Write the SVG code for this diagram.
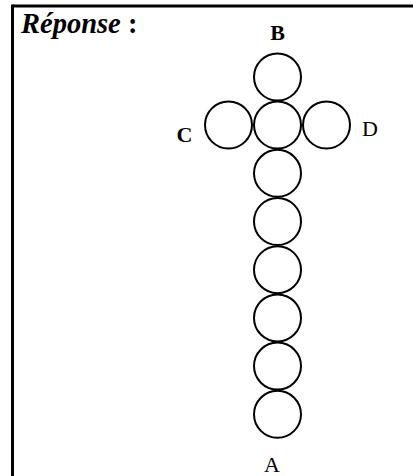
<svg xmlns="http://www.w3.org/2000/svg" width="413" height="476" viewBox="0 0 413 476">
<style>
.c{fill:none;stroke:#000;stroke-width:2}
.t{font-family:"Liberation Serif","Times New Roman",serif;fill:#000}
.l{font-size:22px;text-anchor:middle}
</style>
<rect width="413" height="476" fill="#fff"/>
<g id="frame">
<line x1="12.5" y1="6" x2="413" y2="6" stroke="#000" stroke-width="3"/>
<line x1="12.5" y1="4.5" x2="12.5" y2="476" stroke="#000" stroke-width="3"/>
</g>
<g id="title"><text class="t" x="21" y="33" font-size="28.5" font-weight="bold"><tspan font-style="italic">Réponse</tspan> :</text></g>
<g id="B"><circle class="c" cx="277.5" cy="77" r="23.5"/><text class="t l" x="277.5" y="40" font-weight="bold">B</text></g>
<g id="center"><circle class="c" cx="277.5" cy="125" r="23.5"/></g>
<g id="C"><circle class="c" cx="228.5" cy="125" r="23.5"/><text class="t l" x="184.5" y="142" font-weight="bold">C</text></g>
<g id="D"><circle class="c" cx="326.5" cy="125" r="23.5"/><text class="t l" x="370" y="136">D</text></g>
<g id="n1"><circle class="c" cx="277.5" cy="173.3" r="23.5"/></g>
<g id="n2"><circle class="c" cx="277.5" cy="221.5" r="23.5"/></g>
<g id="n3"><circle class="c" cx="277.5" cy="269.7" r="23.5"/></g>
<g id="n4"><circle class="c" cx="277.5" cy="317.9" r="23.5"/></g>
<g id="n5"><circle class="c" cx="277.5" cy="366.1" r="23.5"/></g>
<g id="A"><circle class="c" cx="277.5" cy="414.3" r="23.5"/><text class="t l" x="272" y="472">A</text></g>
<g id="connectors"/>
</svg>
